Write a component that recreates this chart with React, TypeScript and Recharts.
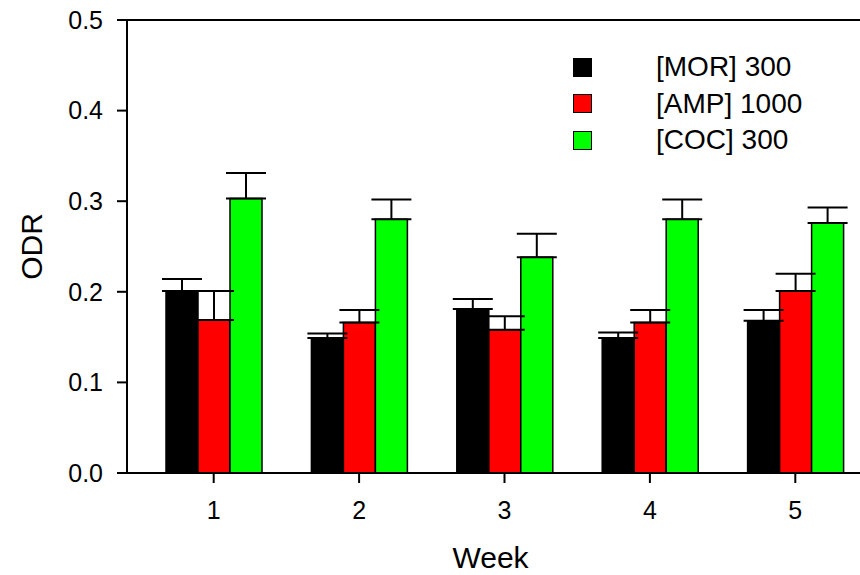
import { BarChart, Bar, XAxis, YAxis, ErrorBar, ReferenceLine } from 'recharts'

const weeks = ['1', '2', '3', '4', '5']
const mor = [0.201, 0.149, 0.181, 0.149, 0.168]
const amp = [0.169, 0.166, 0.158, 0.166, 0.201]
const coc = [0.303, 0.28, 0.238, 0.28, 0.276]
const morErr = [0.013, 0.005, 0.011, 0.006, 0.012]
const ampErr = [0.032, 0.014, 0.015, 0.014, 0.019]
const cocErr = [0.028, 0.022, 0.026, 0.022, 0.017]
const yTicks = [0, 0.1, 0.2, 0.3, 0.4, 0.5]

const series = [
  { key: 'mor', name: '[MOR] 300', color: '#000000' },
  { key: 'amp', name: '[AMP] 1000', color: '#ff0000' },
  { key: 'coc', name: '[COC] 300', color: '#00ff00' },
]

const data = weeks.map((week, i) => ({
  week,
  mor: mor[i],
  amp: amp[i],
  coc: coc[i],
  morErr: [0, morErr[i]],
  ampErr: [0, ampErr[i]],
  cocErr: [0, cocErr[i]],
}))

const font = 'Liberation Sans, Arial, sans-serif'

// legend drawn as plain html so recharts does not reserve room for it
function LegendBox() {
  return (
    <div style={{ position: 'absolute', top: 49, left: 573, fontFamily: font, fontSize: 28, color: '#000' }}>
      {series.map((s) => (
        <div key={s.key} style={{ display: 'flex', alignItems: 'center', height: 36.5 }}>
          <div
            style={{
              width: 17,
              height: 17,
              background: s.color,
              border: '1.5px solid #000',
              marginRight: 64,
            }}
          />
          <span style={{ lineHeight: '36.5px', whiteSpace: 'nowrap' }}>{s.name}</span>
        </div>
      ))}
    </div>
  )
}

export default function App() {
  return (
    <div style={{ position: 'absolute', left: 0, top: 0, width: 860, height: 575, overflow: 'hidden', background: '#fff' }}>
      <BarChart
        width={882}
        height={575}
        data={data}
        margin={{ top: 20, right: 0, bottom: 0, left: 0 }}
        barCategoryGap={25}
        barGap={0}
        style={{ fontFamily: font }}
      >
        <XAxis
          dataKey="week"
          height={102}
          padding={{ left: 14, right: 14 }}
          tickSize={10}
          tickMargin={18}
          fontSize={25}
          axisLine={{ stroke: '#000', strokeWidth: 2 }}
          tickLine={{ stroke: '#000', strokeWidth: 2 }}
          tick={{ fill: '#000', fontSize: 25 }}
          label={{ value: 'Week', position: 'insideBottom', offset: 7, dx: -14, fill: '#000', fontSize: 30 }}
        />
        <YAxis
          width={127}
          domain={[0, 0.5]}
          ticks={yTicks}
          tickFormatter={(v: number) => v.toFixed(1)}
          tickSize={10}
          tickMargin={14}
          fontSize={25}
          axisLine={{ stroke: '#000', strokeWidth: 2 }}
          tickLine={{ stroke: '#000', strokeWidth: 2 }}
          tick={{ fill: '#000', fontSize: 25 }}
          label={{
            value: 'ODR',
            angle: -90,
            position: 'insideLeft',
            offset: 31,
            fill: '#000',
            fontSize: 30,
            style: { textAnchor: 'middle' },
          }}
        />
        <ReferenceLine y={0.5} stroke="#000" strokeWidth={2} />
        {series.map((s) => (
          <Bar
            key={s.key}
            dataKey={s.key}
            name={s.name}
            fill={s.color}
            stroke="#000"
            strokeWidth={1.5}
            isAnimationActive={false}
          >
            <ErrorBar dataKey={`${s.key}Err`} width={20} stroke="#000" strokeWidth={2} />
          </Bar>
        ))}
      </BarChart>
      <LegendBox />
    </div>
  )
}
